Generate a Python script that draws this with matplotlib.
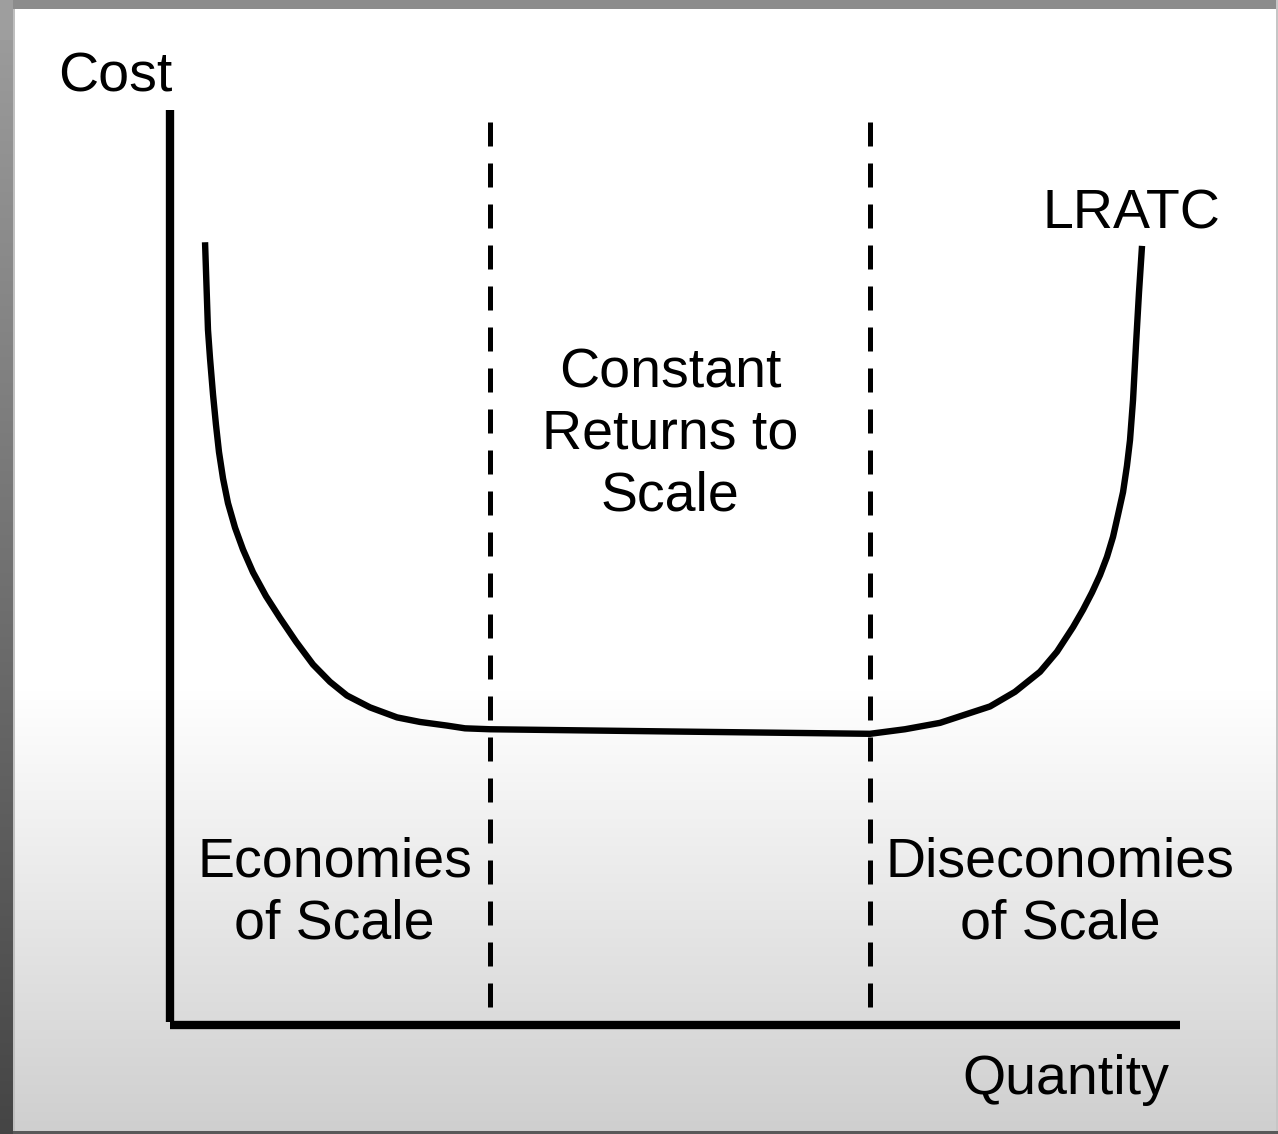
import numpy as np
import matplotlib
matplotlib.use("Agg")
import matplotlib.pyplot as plt

plt.rcParams['font.family'] = ['Liberation Sans', 'DejaVu Sans']

# ---- data (quantity 0-100, cost 0-100) ----
lratc_q = [3.47, 3.56, 3.66, 3.76, 3.96, 4.26, 4.55, 4.85, 5.25, 5.74, 6.44, 7.23,
           8.22, 9.50, 10.89, 12.48, 14.16, 15.84, 17.52, 19.80, 22.48, 24.75,
           27.43, 29.21, 31.68,
           50.0,
           69.31, 72.77, 76.24, 78.71, 81.19, 83.66, 86.14, 87.82, 89.41, 90.40,
           91.29, 92.08, 92.77, 93.37, 93.86, 94.36, 94.75, 95.05, 95.35, 95.64,
           95.94, 96.24]
lratc_c = [85.5, 82.5, 79.2, 75.9, 72.8, 68.8, 65.5, 62.5, 59.6, 56.9, 54.2, 51.8,
           49.3, 46.7, 44.3, 41.7, 39.2, 37.3, 35.8, 34.5, 33.4, 32.9,
           32.5, 32.2, 32.1,
           31.85,
           31.6, 32.1, 32.8, 33.7, 34.6, 36.2, 38.4, 40.6, 43.3, 45.2,
           47.1, 49.0, 51.0, 53.2, 55.6, 58.1, 61.0, 63.8, 68.2, 74.2,
           80.0, 85.1]
boundaries_q = [31.7, 69.3]
dash_top = 98.7
axis_top = 100
axis_right = 100

labels = {
    "Cost": (-5.4, 103.6),
    "LRATC": (95.2, 88.5),
    "Constant\nReturns to\nScale": (49.5, 64.4),
    "Economies\nof Scale": (16.3, 14.1),
    "Diseconomies\nof Scale": (88.1, 14.1),
    "Quantity": (88.7, -6.4),
}

W, H = 1278, 1134
fig = plt.figure(figsize=(W / 100, H / 100), dpi=100)

# ---- background (screenshot frame + soft gradient) ----
rows = np.arange(H, dtype=float)
grad = np.ones(H)
start = 690.0
mask = rows > start
grad[mask] = 1.0 - (rows[mask] - start) / (H - start) * 0.19
bg = np.repeat(grad[:, None], W, axis=1)
bg = np.stack([bg, bg, bg], axis=-1)
bg[:9, :, :] = 0.55
left = np.linspace(0.62, 0.27, H)
left[:40] = 0.62
bg[:, :13, :] = left[:, None, None]
bg[:, 13:15, :] = np.minimum(bg[:, 13:15, :], 0.75)
bg[:, W - 2:, :] = 0.78
bg[H - 3:, 13:, :] = 0.35

bax = fig.add_axes([0, 0, 1, 1], zorder=0)
bax.imshow(bg, aspect='auto', extent=[0, W, H, 0], interpolation='nearest')
bax.set_axis_off()

# ---- main diagram ----
ax = fig.add_axes([170 / W, (H - 1022) / H, 1010 / W, 912 / H], zorder=1)
ax.set_facecolor('none')
ax.set_xlim(0, 100)
ax.set_ylim(0, 100)
ax.set_axis_off()

# axes lines
ax.plot([0, 0], [0, axis_top], color='black', lw=6, solid_capstyle='butt', clip_on=False)
ax.plot([0, axis_right], [-0.3, -0.3], color='black', lw=6, solid_capstyle='butt', clip_on=False)

# dashed boundaries (drawn from the top so the pattern starts there)
for q in boundaries_q:
    ax.plot([q, q], [dash_top, 0], color='black', lw=3.6, dashes=(4.8, 3.4),
            dash_capstyle='butt', clip_on=False)

# LRATC curve
ax.plot(lratc_q, lratc_c, color='black', lw=4.6, solid_joinstyle='round',
        solid_capstyle='butt', clip_on=False)

for txt, (x, y) in labels.items():
    ax.text(x, y, txt, fontsize=40, ha='center', va='center', color='black',
            linespacing=1.24, clip_on=False)

fig.savefig("out.png", dpi=100)
